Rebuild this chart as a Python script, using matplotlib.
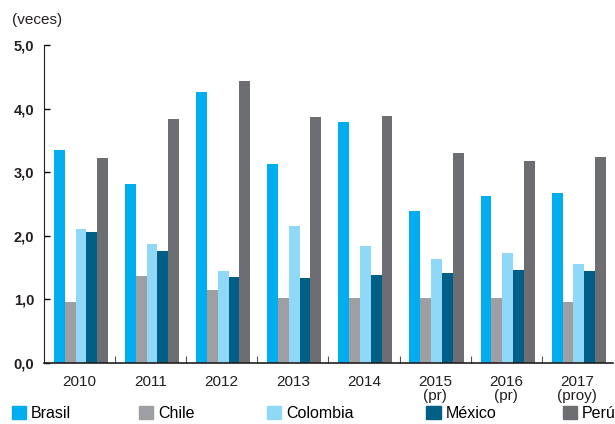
import matplotlib
matplotlib.use("Agg")
import matplotlib.pyplot as plt
import numpy as np
from matplotlib.patches import Patch

plt.rcParams['font.family'] = ['Liberation Sans', 'DejaVu Sans']

years = ["2010", "2011", "2012", "2013", "2014", "2015\n(pr)", "2016\n(pr)", "2017\n(proy)"]
countries = ["Brasil", "Chile", "Colombia", "México", "Perú"]
brasil = [3.35, 2.81, 4.26, 3.13, 3.79, 2.39, 2.63, 2.67]
chile = [0.96, 1.37, 1.15, 1.02, 1.02, 1.02, 1.02, 0.96]
colombia = [2.11, 1.87, 1.45, 2.15, 1.84, 1.64, 1.73, 1.56]
mexico = [2.06, 1.76, 1.35, 1.34, 1.38, 1.42, 1.46, 1.45]
peru = [3.22, 3.84, 4.43, 3.87, 3.88, 3.30, 3.18, 3.24]
colors = ["#00aeef", "#9d9fa2", "#8fd8f8", "#005f86", "#6d6e71"]

series = [brasil, chile, colombia, mexico, peru]

fig = plt.figure(figsize=(6.15, 4.24), dpi=100)
ax = fig.add_axes([0.0715, 0.144, 0.925, 0.75])

x = np.arange(len(years))
w = 0.152
for i, (vals, c) in enumerate(zip(series, colors)):
    ax.bar(x + (i - 2) * w + 0.02, vals, w, color=c, linewidth=0)

ax.set_xlim(-0.5, len(years) - 0.5)
ax.set_ylim(0, 5)
ax.set_yticks(np.arange(0, 5.01, 1))
ax.set_yticklabels([f"{v:.1f}".replace(".", ",") for v in np.arange(0, 5.01, 1)],
                   fontsize=10.5, fontweight='bold', color="#231f20")
ax.tick_params(axis='y', direction='in', length=4, width=1, pad=7)

# group separators as major ticks, labels on minor ticks
ax.set_xticks(np.arange(0.5, len(years) - 0.5, 1))
ax.set_xticklabels([])
ax.tick_params(axis='x', which='major', direction='in', length=5, width=0.8, color="#555555")
ax.set_xticks(x, minor=True)
ax.set_xticklabels(years, minor=True, fontsize=11, color="#231f20", linespacing=0.95)
ax.tick_params(axis='x', which='minor', length=0, pad=9)

for s in ["top", "right"]:
    ax.spines[s].set_visible(False)
ax.spines["left"].set_color("#231f20")
ax.spines["bottom"].set_color("#231f20")
ax.spines["bottom"].set_linewidth(1.2)

fig.text(0.019, 0.943, "(veces)", fontsize=11, color="#231f20")

# legend entries placed individually
leg_x = [0.0195, 0.226, 0.434, 0.693, 0.915]
for lx, name, c in zip(leg_x, countries, colors):
    fig.legend(handles=[Patch(color=c, label=name)], loc='center left',
               bbox_to_anchor=(lx, 0.025), frameon=False, fontsize=11.5,
               handlelength=0.9, handleheight=0.9, handletextpad=0.3,
               borderaxespad=0, borderpad=0)

fig.savefig("out.png", dpi=100)
